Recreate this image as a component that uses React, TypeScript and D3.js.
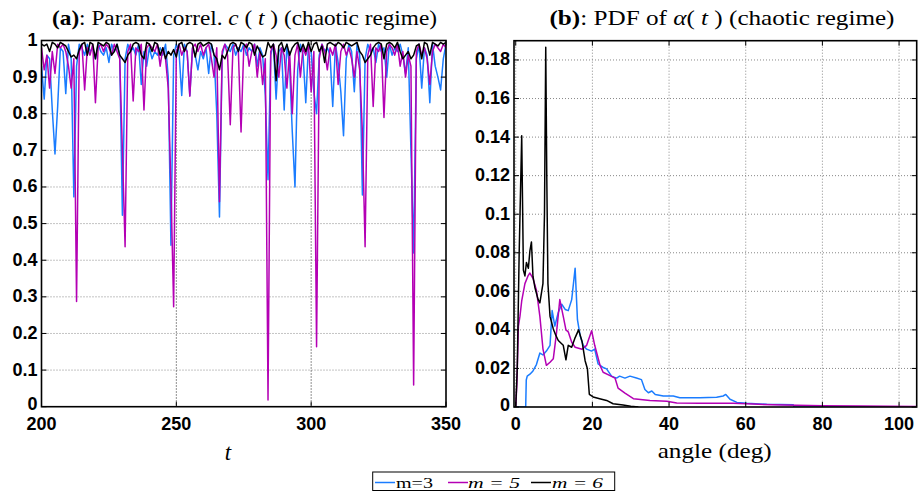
import React from "react";
import * as d3 from "d3";

// ---------- DATA ----------
const tStart = 200;
const tEnd = 350;
const timeGrid = d3.range(tStart, tEnd + 1);

const corrM3 = [
  0.93, 0.84, 0.96, 0.95, 0.81, 0.69, 0.82, 0.98, 0.97, 0.855,
  0.99, 0.95, 0.573, 0.93, 0.99, 0.98, 0.96, 0.99, 0.97, 0.98,
  0.95, 0.99, 0.97, 0.96, 0.98, 0.94, 0.99, 0.97, 0.99, 0.96,
  0.523, 0.95, 0.99, 0.97, 0.98, 0.96, 0.99, 0.88, 0.97, 0.93,
  0.98, 0.95, 0.97, 0.96, 0.98, 0.96, 0.99, 0.9, 0.441, 0.96,
  0.99, 0.97, 0.85, 0.99, 0.97, 0.85, 0.98, 0.96, 0.92, 0.97,
  0.95, 0.98, 0.91, 0.99, 0.96, 0.8, 0.518, 0.96, 0.99, 0.98,
  0.97, 0.99, 0.96, 0.98, 0.97, 0.99, 0.96, 0.98, 0.97, 0.99,
  0.93, 0.98, 0.96, 0.85, 0.62, 0.96, 0.99, 0.84, 0.97, 0.98,
  0.81, 0.99, 0.93, 0.75, 0.6, 0.92, 0.99, 0.96, 0.83, 0.99,
  0.97, 0.86, 0.8, 0.96, 0.99, 0.97, 0.98, 0.96, 0.82, 0.99,
  0.94, 0.86, 0.74, 0.95, 0.99, 0.97, 0.86, 0.99, 0.96, 0.578,
  0.95, 0.99, 0.97, 0.98, 0.94, 0.99, 0.97, 0.98, 0.9, 0.99,
  0.96, 0.98, 0.97, 0.99, 0.96, 0.91, 0.98, 0.7, 0.42, 0.95,
  0.99, 0.87, 0.98, 0.96, 0.83, 0.99, 0.93, 0.9, 0.865, 0.95,
  0.99,
];

const corrM5 = [
  0.98, 0.92, 0.96, 0.87, 0.97, 0.91, 0.99, 0.98, 0.99, 0.97,
  0.93, 0.87, 0.95, 0.287, 0.97, 0.99, 0.865, 0.98, 0.96, 0.99,
  0.83, 0.98, 0.99, 0.97, 0.99, 0.98, 0.96, 0.99, 0.97, 0.95,
  0.7, 0.437, 0.97, 0.99, 0.835, 0.98, 0.97, 0.99, 0.81, 0.98,
  0.99, 0.98, 0.97, 0.99, 0.93, 0.98, 0.95, 0.87, 0.6, 0.273,
  0.97, 0.99, 0.96, 0.98, 0.97, 0.848, 0.98, 0.99, 0.97, 0.99,
  0.96, 0.98, 0.99, 0.95, 0.9, 0.98, 0.56, 0.97, 0.99, 0.96,
  0.77, 0.98, 0.99, 0.97, 0.75, 0.98, 0.99, 0.93, 0.97, 0.99,
  0.9, 0.97, 0.88, 0.95, 0.018, 0.97, 0.99, 0.96, 0.9, 0.98,
  0.96, 0.87, 0.97, 0.8, 0.96, 0.99, 0.9, 0.98, 0.96, 0.99,
  0.86, 0.97, 0.164, 0.95, 0.99, 0.97, 0.92, 0.98, 0.96, 0.99,
  0.88, 0.97, 0.99, 0.96, 0.98, 0.95, 0.9, 0.97, 0.92, 0.75,
  0.437, 0.96, 0.99, 0.82, 0.98, 0.97, 0.99, 0.79, 0.97, 0.99,
  0.98, 0.96, 0.99, 0.93, 0.97, 0.9, 0.96, 0.93, 0.059, 0.97,
  0.99, 0.96, 0.98, 0.95, 0.88, 0.97, 0.99, 0.98, 0.97, 0.99,
  0.98,
];

const corrM6 = [
  0.99, 0.985, 0.99, 0.97, 0.995, 0.99, 0.98, 0.995, 0.99, 0.985,
  0.97, 0.955, 0.96, 0.95, 0.975, 0.99, 0.995, 0.96, 0.995, 0.99,
  0.95, 0.995, 0.99, 0.985, 0.995, 0.99, 0.96, 0.97, 0.99, 0.96,
  0.95, 0.94, 0.96, 0.97, 0.99, 0.995, 0.99, 0.96, 0.95, 0.995,
  0.99, 0.97, 0.995, 0.99, 0.96, 0.98, 0.95, 0.97, 0.96, 0.975,
  0.955, 0.99, 0.995, 0.97, 0.99, 0.995, 0.99, 0.955, 0.99, 0.995,
  0.985, 0.99, 0.995, 0.99, 0.96, 0.95, 0.92, 0.96, 0.95, 0.97,
  0.99, 0.995, 0.99, 0.97, 0.995, 0.99, 0.98, 0.995, 0.99, 0.96,
  0.985, 0.97, 0.955, 0.96, 0.995, 0.98, 0.99, 0.89, 0.985, 0.995,
  0.97, 0.99, 0.96, 0.98, 0.99, 0.995, 0.97, 0.99, 0.97, 0.995,
  0.97, 0.99, 0.995, 0.97, 0.985, 0.94, 0.99, 0.995, 0.99, 0.985,
  0.995, 0.99, 0.98, 0.995, 0.99, 0.985, 0.99, 0.995, 0.97, 0.96,
  0.94, 0.95, 0.96, 0.98, 0.99, 0.995, 0.99, 0.95, 0.99, 0.995,
  0.99, 0.98, 0.995, 0.97, 0.95, 0.96, 0.97, 0.95, 0.96, 0.985,
  0.99, 0.95, 0.995, 0.99, 0.96, 0.995, 0.99, 0.985, 0.995, 0.99,
  0.995,
];

const pdfAngleM3 = [0, 2.6, 2.75, 3.0, 3.7, 4.5, 5.4, 6.3, 7.1, 8.0, 8.95, 9.5, 10.2, 11.1, 12.0, 12.9, 13.7, 14.6, 15.5, 16.1, 16.8, 17.6, 18.5, 19.8, 20.6, 21.5, 22.8, 23.7, 25, 26.3, 27.1, 28.5, 29.8, 31.5, 32.8, 33.7, 34.6, 35.5, 36.4, 38.5, 41.1, 42.8, 48, 52.4, 54.1, 54.8, 55.9, 57.7, 60.3, 65.5, 72.4, 72.6, 104.6];
const pdfM3 = [0, 0, 0.014, 0.016, 0.017, 0.0187, 0.022, 0.028, 0.027, 0.029, 0.032, 0.05, 0.042, 0.049, 0.0533, 0.0506, 0.05, 0.0557, 0.072, 0.0453, 0.037, 0.032, 0.03, 0.029, 0.03, 0.0223, 0.0205, 0.0198, 0.016, 0.015, 0.016, 0.015, 0.016, 0.015, 0.0142, 0.0091, 0.0074, 0.0083, 0.0065, 0.0057, 0.0057, 0.0048, 0.0048, 0.0051, 0.0057, 0.0065, 0.004, 0.0024, 0.0019, 0.0014, 0.0012, 0, 0];

const pdfAngleM5 = [0, 0.3, 0.7, 1.1, 1.56, 2.4, 3.2, 3.7, 4.5, 5.4, 6.3, 7.1, 8.0, 8.95, 9.8, 10.6, 11.5, 12.4, 13.1, 13.7, 14.6, 15.5, 17.3, 18.5, 19.8, 20.6, 22, 22.8, 24.6, 25.9, 26.7, 28.5, 30.7, 35, 39.4, 42, 48, 56.7, 61.9, 70, 80, 90, 104.6];
const pdfM5 = [0, 0.012, 0.042, 0.047, 0.055, 0.064, 0.068, 0.0695, 0.0667, 0.0606, 0.047, 0.0302, 0.0216, 0.0232, 0.025, 0.0378, 0.0557, 0.047, 0.04, 0.039, 0.0336, 0.031, 0.03, 0.032, 0.0396, 0.032, 0.0216, 0.018, 0.0163, 0.015, 0.0098, 0.0072, 0.0043, 0.0034, 0.003, 0.0021, 0.0019, 0.0019, 0.0015, 0.001, 0.0007, 0.0005, 0.0003];

const pdfAngleM6 = [0, 0.4, 0.9, 1.56, 2.0, 2.4, 2.8, 3.3, 3.7, 4.1, 4.5, 5.0, 5.85, 6.3, 7.1, 7.5, 7.83, 8.1, 8.4, 8.95, 9.8, 10.5, 11.1, 12.4, 13.1, 13.7, 14.6, 15.5, 16.4, 17.3, 18.1, 18.7, 19.2, 20.2, 21.9, 23.7, 25.4, 28, 30, 32];
const pdfM6 = [0, 0.02, 0.08, 0.1407, 0.071, 0.068, 0.075, 0.072, 0.081, 0.0856, 0.0677, 0.062, 0.0557, 0.054, 0.064, 0.1, 0.1866, 0.12, 0.064, 0.047, 0.0405, 0.037, 0.0345, 0.032, 0.0245, 0.032, 0.031, 0.036, 0.04, 0.034, 0.024, 0.0198, 0.0066, 0.0052, 0.0043, 0.0034, 0.0017, 0.001, 0.0004, 0];

const leftXTicks = [200, 250, 300, 350];
const leftYTicks = [0, 0.1, 0.2, 0.3, 0.4, 0.5, 0.6, 0.7, 0.8, 0.9, 1];
const leftYLabels = ["0", "0.1", "0.2", "0.3", "0.4", "0.5", "0.6", "0.7", "0.8", "0.9", "1"];
const rightXTicks = [0, 20, 40, 60, 80, 100];
const rightYTicks = [0, 0.02, 0.04, 0.06, 0.08, 0.1, 0.12, 0.14, 0.16, 0.18];
const rightYLabels = ["0", "0.02", "0.04", "0.06", "0.08", "0.1", "0.12", "0.14", "0.16", "0.18"];

const seriesNames = ["m=3", "m = 5", "m = 6"];
const seriesColors = ["#1a7cff", "#b400b4", "#000000"];

// ---------- LAYOUT ----------
const W = 923;
const H = 493;
const L = { x0: 41.5, x1: 446, y0: 40.5, y1: 406.7 };
const R = { x0: 514, x1: 916.7, y0: 40.7, y1: 407 };

const tickFont = "'Liberation Sans', Arial, sans-serif";
const serif = "'Liberation Serif', 'Times New Roman', serif";

export default function App() {
  const xL = d3.scaleLinear().domain([tStart, tEnd]).range([L.x0, L.x1]);
  const yL = d3.scaleLinear().domain([0, 1]).range([L.y1, L.y0]);
  const xR = d3.scaleLinear().domain([-0.45, 104.6]).range([R.x0, R.x1]);
  const yR = d3.scaleLinear().domain([0, 0.19]).range([R.y1, R.y0]);

  const leftLine = d3
    .line<[number, number]>()
    .x((d) => xL(d[0]))
    .y((d) => yL(d[1]));
  const rightLine = d3
    .line<[number, number]>()
    .x((d) => xR(d[0]))
    .y((d) => yR(d[1]));

  const leftSeries = [corrM3, corrM5, corrM6].map((vals) =>
    timeGrid.map((t, i) => [t, vals[i]] as [number, number])
  );
  const rightSeries = [
    [pdfAngleM3, pdfM3],
    [pdfAngleM5, pdfM5],
    [pdfAngleM6, pdfM6],
  ].map(([a, v]) => a.map((x, i) => [x, v[i]] as [number, number]));

  const tickLen = 5;

  return (
    <svg
      width={W}
      height={H}
      style={{ position: "absolute", left: 0, top: 0, background: "#fff" }}
    >
      <defs>
        <clipPath id="clipL">
          <rect x={L.x0} y={L.y0} width={L.x1 - L.x0} height={L.y1 - L.y0} />
        </clipPath>
        <clipPath id="clipR">
          <rect x={R.x0} y={R.y0} width={R.x1 - R.x0} height={R.y1 - R.y0} />
        </clipPath>
      </defs>
      <rect x={0} y={0} width={W} height={H} fill="#fff" />

      {/* ---------- Left panel ---------- */}
      <g>
        {leftYTicks.slice(1, -1).map((v) => (
          <line
            key={"lgy" + v}
            x1={L.x0}
            x2={L.x1}
            y1={yL(v)}
            y2={yL(v)}
            stroke="#888"
            strokeWidth={1}
            strokeDasharray="1,2"
          />
        ))}
        {leftXTicks.slice(1, -1).map((v) => (
          <line
            key={"lgx" + v}
            x1={xL(v)}
            x2={xL(v)}
            y1={L.y0}
            y2={L.y1}
            stroke="#222"
            strokeWidth={1}
            strokeDasharray="1,2"
          />
        ))}
        <g clipPath="url(#clipL)">
          {leftSeries.map((s, i) => (
            <path
              key={"ls" + i}
              d={leftLine(s) || ""}
              fill="none"
              stroke={seriesColors[i]}
              strokeWidth={1.5}
              strokeLinejoin="round"
            />
          ))}
        </g>
        {leftYTicks.map((v) => (
          <g key={"lty" + v}>
            <line x1={L.x0} x2={L.x0 + tickLen} y1={yL(v)} y2={yL(v)} stroke="#000" />
            <line x1={L.x1} x2={L.x1 - tickLen} y1={yL(v)} y2={yL(v)} stroke="#000" />
          </g>
        ))}
        {leftXTicks.map((v) => (
          <g key={"ltx" + v}>
            <line x1={xL(v)} x2={xL(v)} y1={L.y1} y2={L.y1 - tickLen} stroke="#000" />
            <line x1={xL(v)} x2={xL(v)} y1={L.y0} y2={L.y0 + tickLen} stroke="#000" />
          </g>
        ))}
        <rect
          x={L.x0}
          y={L.y0}
          width={L.x1 - L.x0}
          height={L.y1 - L.y0}
          fill="none"
          stroke="#000"
          strokeWidth={1.6}
        />
        {leftYTicks.map((v, i) => (
          <text
            key={"lyl" + v}
            x={L.x0 - 4}
            y={yL(v) + (i === 0 ? 3.5 : 5.5)}
            textAnchor="end"
            fontFamily={tickFont}
            fontWeight="bold"
            fontSize={18}
          >
            {leftYLabels[i]}
          </text>
        ))}
        {leftXTicks.map((v) => (
          <text
            key={"lxl" + v}
            x={xL(v)}
            y={429.5}
            textAnchor="middle"
            fontFamily={tickFont}
            fontWeight="bold"
            fontSize={18}
          >
            {v}
          </text>
        ))}
        <text
          x={244.5}
          y={25}
          textAnchor="middle"
          fontFamily={serif}
          fontSize={21}
          textLength={385}
          lengthAdjust="spacingAndGlyphs"
        >
          <tspan fontWeight="bold">(a)</tspan>
          <tspan>: Param. correl. </tspan>
          <tspan fontStyle="italic">c</tspan>
          <tspan> ( </tspan>
          <tspan fontStyle="italic">t</tspan>
          <tspan> ) (chaotic regime)</tspan>
        </text>
        <text
          x={228}
          y={460}
          textAnchor="middle"
          fontFamily={serif}
          fontStyle="italic"
          fontSize={23}
        >
          t
        </text>
      </g>

      {/* ---------- Right panel ---------- */}
      <g>
        {rightYTicks.slice(1).map((v) => (
          <line
            key={"rgy" + v}
            x1={R.x0}
            x2={R.x1}
            y1={yR(v)}
            y2={yR(v)}
            stroke="#888"
            strokeWidth={1}
            strokeDasharray="1,2"
          />
        ))}
        {rightXTicks.map((v) => (
          <line
            key={"rgx" + v}
            x1={xR(v)}
            x2={xR(v)}
            y1={R.y0}
            y2={R.y1}
            stroke="#888"
            strokeWidth={1}
            strokeDasharray="1,2"
          />
        ))}
        <g clipPath="url(#clipR)">
          {rightSeries.map((s, i) => (
            <path
              key={"rs" + i}
              d={rightLine(s) || ""}
              fill="none"
              stroke={seriesColors[i]}
              strokeWidth={1.5}
              strokeLinejoin="round"
            />
          ))}
        </g>
        {rightYTicks.map((v) => (
          <g key={"rty" + v}>
            <line x1={R.x0} x2={R.x0 + tickLen} y1={yR(v)} y2={yR(v)} stroke="#000" />
            <line x1={R.x1} x2={R.x1 - tickLen} y1={yR(v)} y2={yR(v)} stroke="#000" />
          </g>
        ))}
        {rightXTicks.map((v) => (
          <g key={"rtx" + v}>
            <line x1={xR(v)} x2={xR(v)} y1={R.y1} y2={R.y1 - tickLen} stroke="#000" />
            <line x1={xR(v)} x2={xR(v)} y1={R.y0} y2={R.y0 + tickLen} stroke="#000" />
          </g>
        ))}
        <rect
          x={R.x0}
          y={R.y0}
          width={R.x1 - R.x0}
          height={R.y1 - R.y0}
          fill="none"
          stroke="#000"
          strokeWidth={1.6}
        />
        {rightYTicks.map((v, i) => (
          <text
            key={"ryl" + v}
            x={R.x0 - 4}
            y={yR(v) + (i === 0 ? 3.5 : 5.5)}
            textAnchor="end"
            fontFamily={tickFont}
            fontWeight="bold"
            fontSize={18}
          >
            {rightYLabels[i]}
          </text>
        ))}
        {rightXTicks.map((v) => (
          <text
            key={"rxl" + v}
            x={xR(v)}
            y={429.5}
            textAnchor="middle"
            fontFamily={tickFont}
            fontWeight="bold"
            fontSize={18}
          >
            {v}
          </text>
        ))}
        <text
          x={722}
          y={25}
          textAnchor="middle"
          fontFamily={serif}
          fontSize={21}
          textLength={345}
          lengthAdjust="spacingAndGlyphs"
        >
          <tspan fontWeight="bold">(b)</tspan>
          <tspan>: PDF of </tspan>
          <tspan fontStyle="italic">α</tspan>
          <tspan>( </tspan>
          <tspan fontStyle="italic">t</tspan>
          <tspan> ) (chaotic regime)</tspan>
        </text>
        <text
          x={714.7}
          y={458}
          textAnchor="middle"
          fontFamily={serif}
          fontSize={22}
          textLength={114}
          lengthAdjust="spacingAndGlyphs"
        >
          angle (deg)
        </text>
      </g>

      {/* ---------- Legend ---------- */}
      <g>
        <rect x={372.7} y={472} width={242} height={18.5} fill="#fff" stroke="#000" strokeWidth={1} />
        {[
          { lx: 375, tx: 396, tw: 37 },
          { lx: 448, tx: 468, tw: 52 },
          { lx: 531, tx: 552, tw: 51 },
        ].map((p, i) => (
          <g key={"leg" + i}>
            <line x1={p.lx} x2={p.lx + 20} y1={482.5} y2={482.5} stroke={seriesColors[i]} strokeWidth={1.5} />
            <text
              x={p.tx}
              y={488}
              fontFamily={serif}
              fontSize={14}
              fontStyle={i === 0 ? "normal" : "italic"}
              textLength={p.tw}
              lengthAdjust="spacingAndGlyphs"
            >
              {seriesNames[i]}
            </text>
          </g>
        ))}
      </g>
    </svg>
  );
}
